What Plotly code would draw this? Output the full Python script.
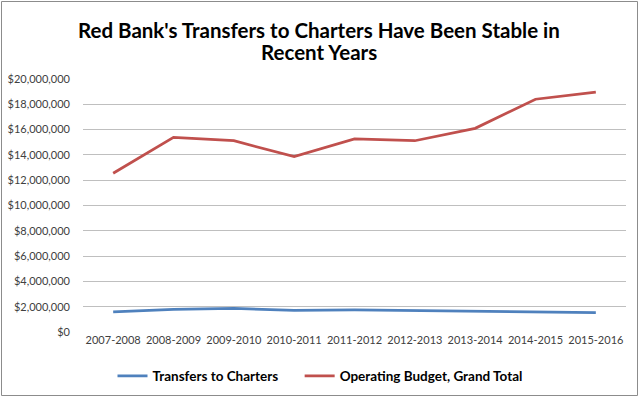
import plotly.graph_objects as go

years = ["2007-2008", "2008-2009", "2009-2010", "2010-2011", "2011-2012",
         "2012-2013", "2013-2014", "2014-2015", "2015-2016"]
transfers = [1600000, 1780000, 1860000, 1700000, 1750000, 1700000, 1620000, 1620000, 1530000]
operating = [12550000, 15390000, 15120000, 13860000, 15260000, 15120000, 16100000, 18400000, 18970000]
y_ticks = list(range(0, 20000001, 2000000))
y_tick_labels = ["${:,}".format(v) for v in y_ticks]
title_lines = ["Red Bank's Transfers to Charters Have Been Stable in", "Recent Years"]
series_names = ["Transfers to Charters", "Operating Budget, Grand Total"]

W, H = 640, 397
# plot area in page pixels: x 83..626, y 79..332
L, R, T, B = 83, 640 - 626, 79, 397 - 332
pw, ph = W - L - R, H - T - B


def px_x(x):
    return (x - L) / pw


def px_y(y):
    return (H - B - y) / ph


GAP = "\u00a0" * 5
fig = go.Figure()
fig.add_trace(go.Scatter(x=years, y=transfers, mode="lines", name=series_names[0] + GAP,
                         line=dict(color="#4F81BD", width=2.75)))
fig.add_trace(go.Scatter(x=years, y=operating, mode="lines", name=series_names[1],
                         line=dict(color="#C0504D", width=2.75)))

fig.update_layout(
    width=W, height=H,
    margin=dict(l=L, r=R, t=T, b=B, autoexpand=False),
    paper_bgcolor="white", plot_bgcolor="white",
    font=dict(family="Lato, Carlito, sans-serif", color="#404040"),
    xaxis=dict(showgrid=False, showline=False, ticks="", tickfont=dict(size=11, color="#404040"),
               range=[-0.5, 8.5], automargin=False),
    yaxis=dict(range=[0, 20000000], tickvals=y_ticks, ticktext=y_tick_labels,
               showgrid=True, gridcolor="#BFBFBF", gridwidth=1, zeroline=False,
               showline=False, ticks="", ticklabelstandoff=12, automargin=False,
               tickfont=dict(size=11, color="#404040")),
    legend=dict(orientation="h", x=px_x(320), xanchor="center", y=px_y(376),
                yanchor="middle", font=dict(size=13.5, color="black", weight="bold"),
                itemwidth=30, tracegroupgap=0, bgcolor="rgba(0,0,0,0)"),
    showlegend=True,
)

for txt, ypix in zip(title_lines, [30, 52]):
    fig.add_annotation(text="<b>" + txt + "</b>", xref="paper", yref="paper",
                       x=px_x(319), y=px_y(ypix), xanchor="center", yanchor="middle",
                       showarrow=False, font=dict(size=20.5, color="black", family="Lato, sans-serif"))

fig.add_shape(type="rect", xref="paper", yref="paper",
              x0=px_x(1.5), x1=px_x(637.5), y0=px_y(395.5), y1=px_y(1.5),
              line=dict(color="#8C8C8C", width=1), fillcolor="rgba(0,0,0,0)", layer="above")

fig.write_html("out.html", config={"displayModeBar": False},
               post_script="document.body.style.margin='0';document.body.style.overflow='hidden';")
